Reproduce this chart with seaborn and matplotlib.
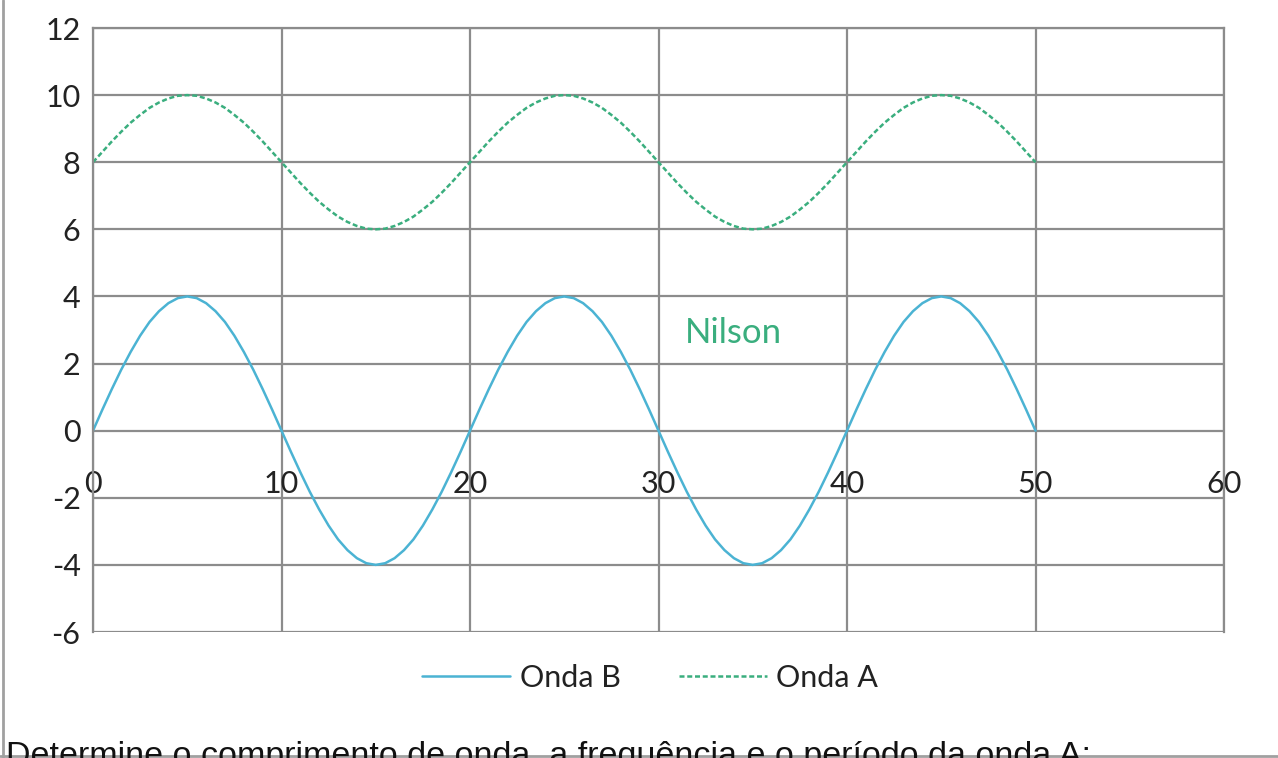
import matplotlib
matplotlib.use("Agg")
import matplotlib.pyplot as plt
import matplotlib.lines as mlines
import seaborn as sns
import pandas as pd

# ---- data ----
x_vals = [i * 0.5 for i in range(0, 101)]
onda_b = [0.00, 0.63, 1.24, 1.82, 2.35, 2.83, 3.24, 3.56, 3.80, 3.95,
          4.00, 3.95, 3.80, 3.56, 3.24, 2.83, 2.35, 1.82, 1.24, 0.63,
          0.00, -0.63, -1.24, -1.82, -2.35, -2.83, -3.24, -3.56, -3.80, -3.95,
          -4.00, -3.95, -3.80, -3.56, -3.24, -2.83, -2.35, -1.82, -1.24, -0.63,
          0.00, 0.63, 1.24, 1.82, 2.35, 2.83, 3.24, 3.56, 3.80, 3.95,
          4.00, 3.95, 3.80, 3.56, 3.24, 2.83, 2.35, 1.82, 1.24, 0.63,
          0.00, -0.63, -1.24, -1.82, -2.35, -2.83, -3.24, -3.56, -3.80, -3.95,
          -4.00, -3.95, -3.80, -3.56, -3.24, -2.83, -2.35, -1.82, -1.24, -0.63,
          0.00, 0.63, 1.24, 1.82, 2.35, 2.83, 3.24, 3.56, 3.80, 3.95,
          4.00, 3.95, 3.80, 3.56, 3.24, 2.83, 2.35, 1.82, 1.24, 0.63,
          0.00]
onda_a = [8.00, 8.31, 8.62, 8.91, 9.18, 9.41, 9.62, 9.78, 9.90, 9.98,
          10.00, 9.98, 9.90, 9.78, 9.62, 9.41, 9.18, 8.91, 8.62, 8.31,
          8.00, 7.69, 7.38, 7.09, 6.82, 6.59, 6.38, 6.22, 6.10, 6.02,
          6.00, 6.02, 6.10, 6.22, 6.38, 6.59, 6.82, 7.09, 7.38, 7.69,
          8.00, 8.31, 8.62, 8.91, 9.18, 9.41, 9.62, 9.78, 9.90, 9.98,
          10.00, 9.98, 9.90, 9.78, 9.62, 9.41, 9.18, 8.91, 8.62, 8.31,
          8.00, 7.69, 7.38, 7.09, 6.82, 6.59, 6.38, 6.22, 6.10, 6.02,
          6.00, 6.02, 6.10, 6.22, 6.38, 6.59, 6.82, 7.09, 7.38, 7.69,
          8.00, 8.31, 8.62, 8.91, 9.18, 9.41, 9.62, 9.78, 9.90, 9.98,
          10.00, 9.98, 9.90, 9.78, 9.62, 9.41, 9.18, 8.91, 8.62, 8.31,
          8.00]
series_names = ["Onda B", "Onda A"]
x_ticks = [0, 10, 20, 30, 40, 50, 60]
y_ticks = [-6, -4, -2, 0, 2, 4, 6, 8, 10, 12]
annotation = "Nilson"
footer = "Determine o comprimento de onda, a frequência e o período da onda A:"

df = pd.DataFrame({
    "x": x_vals * 2,
    "y": onda_b + onda_a,
    "serie": [series_names[0]] * len(x_vals) + [series_names[1]] * len(x_vals),
})

sns.set_style("white")
plt.rcParams["font.family"] = ["Lato", "DejaVu Sans"]
plt.rcParams["axes.unicode_minus"] = False

blue = "#4BB3D3"
green = "#3AAE7E"
gridc = "#8C8C8C"
dash = (0, (2, 1.1))

fig = plt.figure(figsize=(12.78, 7.58), dpi=100)
ax = fig.add_axes([93 / 1278, 1 - 632 / 758, (1224 - 93) / 1278, (632 - 28) / 758])

sns.lineplot(data=df[df.serie == "Onda B"], x="x", y="y", ax=ax, color=blue,
             linewidth=1.8, sort=False, legend=False)
sns.lineplot(data=df[df.serie == "Onda A"], x="x", y="y", ax=ax, color=green,
             linewidth=1.8, sort=False, legend=False, linestyle=dash)

ax.set_xlim(0, 60)
ax.set_ylim(-6, 12)
ax.set_xticks(x_ticks)
ax.set_yticks(y_ticks)
ax.set_xlabel("")
ax.set_ylabel("")
ax.grid(True, color=gridc, linewidth=1.6)
ax.set_axisbelow(True)
for s in ["top", "right", "left"]:
    ax.spines[s].set_color(gridc)
    ax.spines[s].set_linewidth(1.6)
ax.spines["bottom"].set_position(("data", 0))
ax.spines["bottom"].set_visible(False)
ax.tick_params(axis="x", length=0, pad=28, labelsize=22, labelcolor="#222222")
ax.tick_params(axis="y", length=0, pad=9, labelsize=22, labelcolor="#222222")

ax.text(34.0, 2.92, annotation, color=green, fontsize=25, ha="center", va="center")

h_b = mlines.Line2D([], [], color=blue, linewidth=1.8)
h_a = mlines.Line2D([], [], color=green, linewidth=1.8, linestyle=dash)
fig.legend([h_b, h_a], series_names, loc="center", bbox_to_anchor=(650 / 1278, 1 - 678 / 758),
           ncol=2, frameon=False, fontsize=22, handlelength=2.9, columnspacing=1.9,
           handletextpad=0.3, labelcolor="#222222")

# outer frame lines
fig.add_artist(mlines.Line2D([3 / 1278, 3 / 1278], [0, 1], color="#A0A0A0", linewidth=2,
                             transform=fig.transFigure))
fig.add_artist(mlines.Line2D([0, 1], [2 / 758, 2 / 758], color="#A0A0A0", linewidth=2,
                             transform=fig.transFigure))

fig.text(6 / 1278, 1 - 741 / 758, footer, fontsize=24.5, va="top", ha="left",
         family=["Liberation Sans", "DejaVu Sans"], color="#111111")

fig.savefig("out.png", dpi=100, facecolor="white")
